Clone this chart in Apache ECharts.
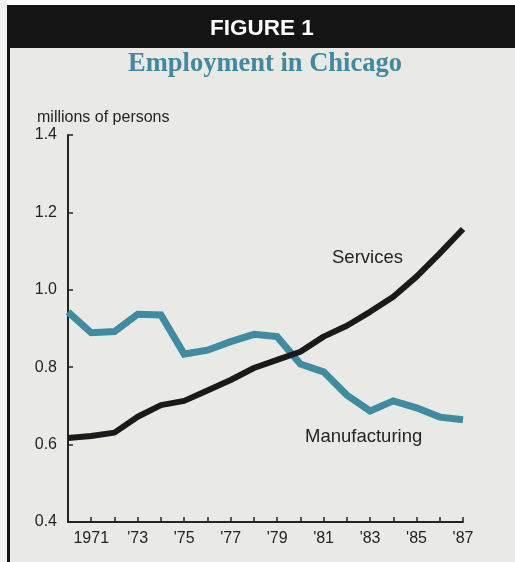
<!DOCTYPE html>
<html>
<head>
<meta charset="utf-8">
<script src="https://cdn.jsdelivr.net/npm/echarts@6/dist/echarts.min.js"></script>
<style>html,body{margin:0;padding:0;background:#fff;}#c{width:515px;height:562px;}</style>
</head>
<body>
<div id="c"></div>
<script>
var years = ['1970','1971','1972','1973','1974','1975','1976','1977','1978','1979','1980','1981','1982','1983','1984','1985','1986','1987'];
var xTickLabels = {'1971':'1971','1973':"'73",'1975':"'75",'1977':"'77",'1979':"'79",'1981':"'81",'1983':"'83",'1985':"'85",'1987':"'87"};
var manufacturing = [0.943,0.889,0.892,0.937,0.935,0.834,0.844,0.866,0.885,0.879,0.808,0.788,0.728,0.687,0.713,0.695,0.671,0.664];
var services = [0.617,0.622,0.631,0.672,0.702,0.713,0.740,0.767,0.798,0.819,0.840,0.879,0.907,0.943,0.982,1.034,1.094,1.157];
var yTicks = {min:0.4, max:1.4, interval:0.2};

var chart = echarts.init(document.getElementById('c'), null, {renderer:'canvas'});
var dark = '#242424';
var teal = '#3d8ca2';
var sans = '"Liberation Sans", Arial, sans-serif';
chart.setOption({
  backgroundColor: '#e9e9e6',
  animation: false,
  grid: {left:68, right:52, top:135, bottom:40, containLabel:false},
  graphic: [
    {type:'rect', shape:{x:0,y:0,width:515,height:5}, style:{fill:'#ffffff'}, z:-10},
    {type:'rect', shape:{x:0,y:0,width:7,height:562}, style:{fill:'#f4f4f2'}, z:-10},
    {type:'rect', shape:{x:7,y:5,width:508,height:43}, style:{fill:'#141414'}, z:-5},
    {type:'rect', shape:{x:7,y:5,width:3,height:557}, style:{fill:'#141414'}, z:-5},
    {type:'text', x:262, y:29, style:{text:'FIGURE 1', fill:'#ffffff', font:'bold 22.5px ' + sans, textAlign:'center', textVerticalAlign:'middle'}},
    {type:'text', x:265, y:64, style:{text:'Employment in Chicago', fill:'#3f8aa0', font:'bold 26.5px "Liberation Serif", "Times New Roman", serif', textAlign:'center', textVerticalAlign:'middle'}},
    {type:'text', x:37, y:118, style:{text:'millions of persons', fill:dark, font:'16px ' + sans, textAlign:'left', textVerticalAlign:'middle'}},
    {type:'text', x:332, y:258, style:{text:'Services', fill:dark, font:'18.5px ' + sans, textAlign:'left', textVerticalAlign:'middle'}},
    {type:'text', x:305, y:437, style:{text:'Manufacturing', fill:dark, font:'18.5px ' + sans, textAlign:'left', textVerticalAlign:'middle'}}
  ],
  xAxis: {
    type:'category', data: years, boundaryGap:false,
    axisLine:{show:true, onZero:false, lineStyle:{color:dark, width:2}},
    axisTick:{show:true, inside:true, length:5, interval:0, lineStyle:{color:dark, width:1.5}},
    axisLabel:{interval:0, margin:9, color:dark, fontSize:16, fontFamily:sans,
      formatter:function(v){return xTickLabels[v] || '';}},
    splitLine:{show:false}
  },
  yAxis: {
    type:'value', min:yTicks.min, max:yTicks.max, interval:yTicks.interval,
    axisLine:{show:true, lineStyle:{color:dark, width:2}},
    axisTick:{show:true, inside:true, length:5, lineStyle:{color:dark, width:1.5}},
    axisLabel:{margin:11, color:dark, fontSize:16, fontFamily:sans, padding:[3,0,0,0],
      formatter:function(v){return v.toFixed(1);}},
    splitLine:{show:false}
  },
  series: [
    {name:'Manufacturing', type:'line', data:manufacturing, symbol:'none', lineStyle:{color:teal, width:7, cap:'butt', join:'miter'}, z:3},
    {name:'Services', type:'line', data:services, symbol:'none', lineStyle:{color:'#1a1a1a', width:6, cap:'butt', join:'round'}, z:4}
  ]
});
</script>
</body>
</html>
